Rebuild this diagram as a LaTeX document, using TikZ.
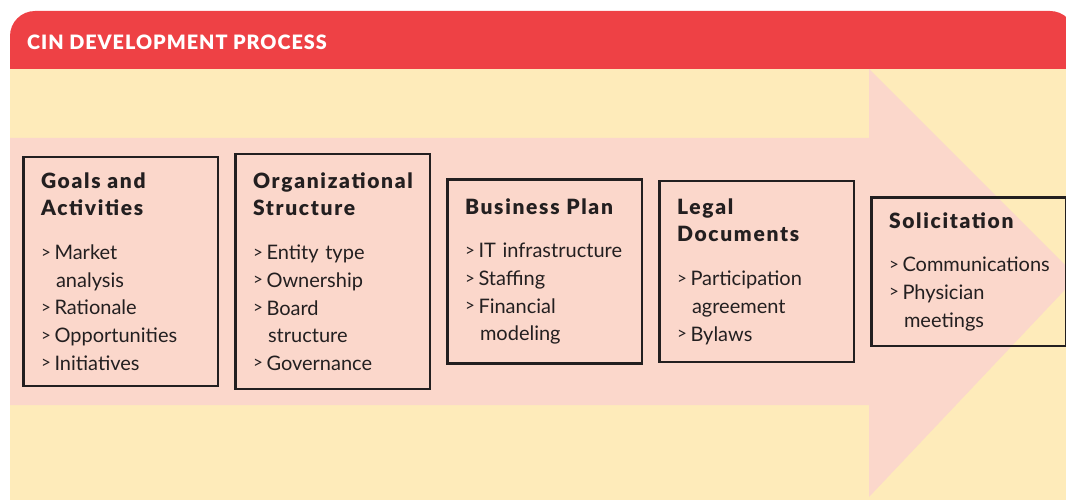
\documentclass[tikz,border=0pt]{standalone}
\usepackage{fontspec}
\setmainfont{Lato}[BoldFont={Lato Black}, BoldFeatures={LetterSpace=5}]
\newfontfamily\headfont{Lato Black}[LetterSpace=8, Scale=1.05]
\usetikzlibrary{positioning}

\definecolor{cinred}{HTML}{EE4145}
\definecolor{cinyellow}{HTML}{FEEBBA}
\definecolor{cinpink}{HTML}{FBD7CB}
\definecolor{cinline}{HTML}{231F20}

\newcommand{\hd}[1]{{\headfont #1}}
\newcommand{\itm}{\makebox[13.5pt][l]{\raisebox{1.5pt}{\scalebox{0.85}{>}}}}
\newcommand{\cnt}{\hspace*{15pt}}

\tikzset{
    stagebox/.style={draw=cinline, line width=2.5pt, rectangle, text=cinline,
        text width=159pt, inner xsep=17.75pt, inner ysep=4pt, align=left,
        font=\fontsize{20}{27.7}\selectfont},
    titletext/.style={anchor=base west, inner sep=0pt, text=white,
        font=\fontsize{19.8}{20}\selectfont\bfseries}
}

\begin{document}
\begin{tikzpicture}[x=1pt, y=-1pt]
    \useasboundingbox (0,0) rectangle (1066,500);
    \clip (0,0) rectangle (1066,500);

    % Panel
    \fill[cinred, rounded corners=25pt] (10,11) rectangle (1075,560);
    \fill[cinyellow] (10,69) rectangle (1075,560);
    \node[titletext] at (27,50) (title) {CIN DEVELOPMENT PROCESS};

    % Arrow
    \fill[cinpink] (10,138) -- (869,138) -- (869,69) -- (1077,277)
        -- (869,497) -- (869,405) -- (10,405) -- cycle;

    % Boxes
    \node[stagebox, minimum height=228.5pt] at (120.5,271.5) (goals)
        {\hd{Goals and}\\ \hd{Activities}\\[16pt]
         \itm Market\\ \cnt analysis\\ \itm Rationale\\ \itm Opportunities\\ \itm Initiatives};
    \node[stagebox, minimum height=234.5pt, right=15pt of goals] (org)
        {\hd{Organizational}\\ \hd{Structure}\\[16pt]
         \itm Entity type\\ \itm Ownership\\ \itm Board\\ \cnt structure\\ \itm Governance};
    \node[stagebox, minimum height=183.5pt, right=15pt of org] (business)
        {\hd{Business Plan}\\[16pt]
         \itm IT infrastructure\\ \itm Staffing\\ \itm Financial\\ \cnt modeling};
    \node[stagebox, minimum height=180.5pt, right=15pt of business] (legal)
        {\hd{Legal}\\ \hd{Documents}\\[16pt]
         \itm Participation\\ \cnt agreement\\ \itm Bylaws};
    \node[stagebox, minimum height=148.5pt, right=15pt of legal] (solicit)
        {\hd{Solicitation}\\[16pt]
         \itm Communications\\ \itm Physician\\ \cnt meetings};
\end{tikzpicture}
\end{document}
